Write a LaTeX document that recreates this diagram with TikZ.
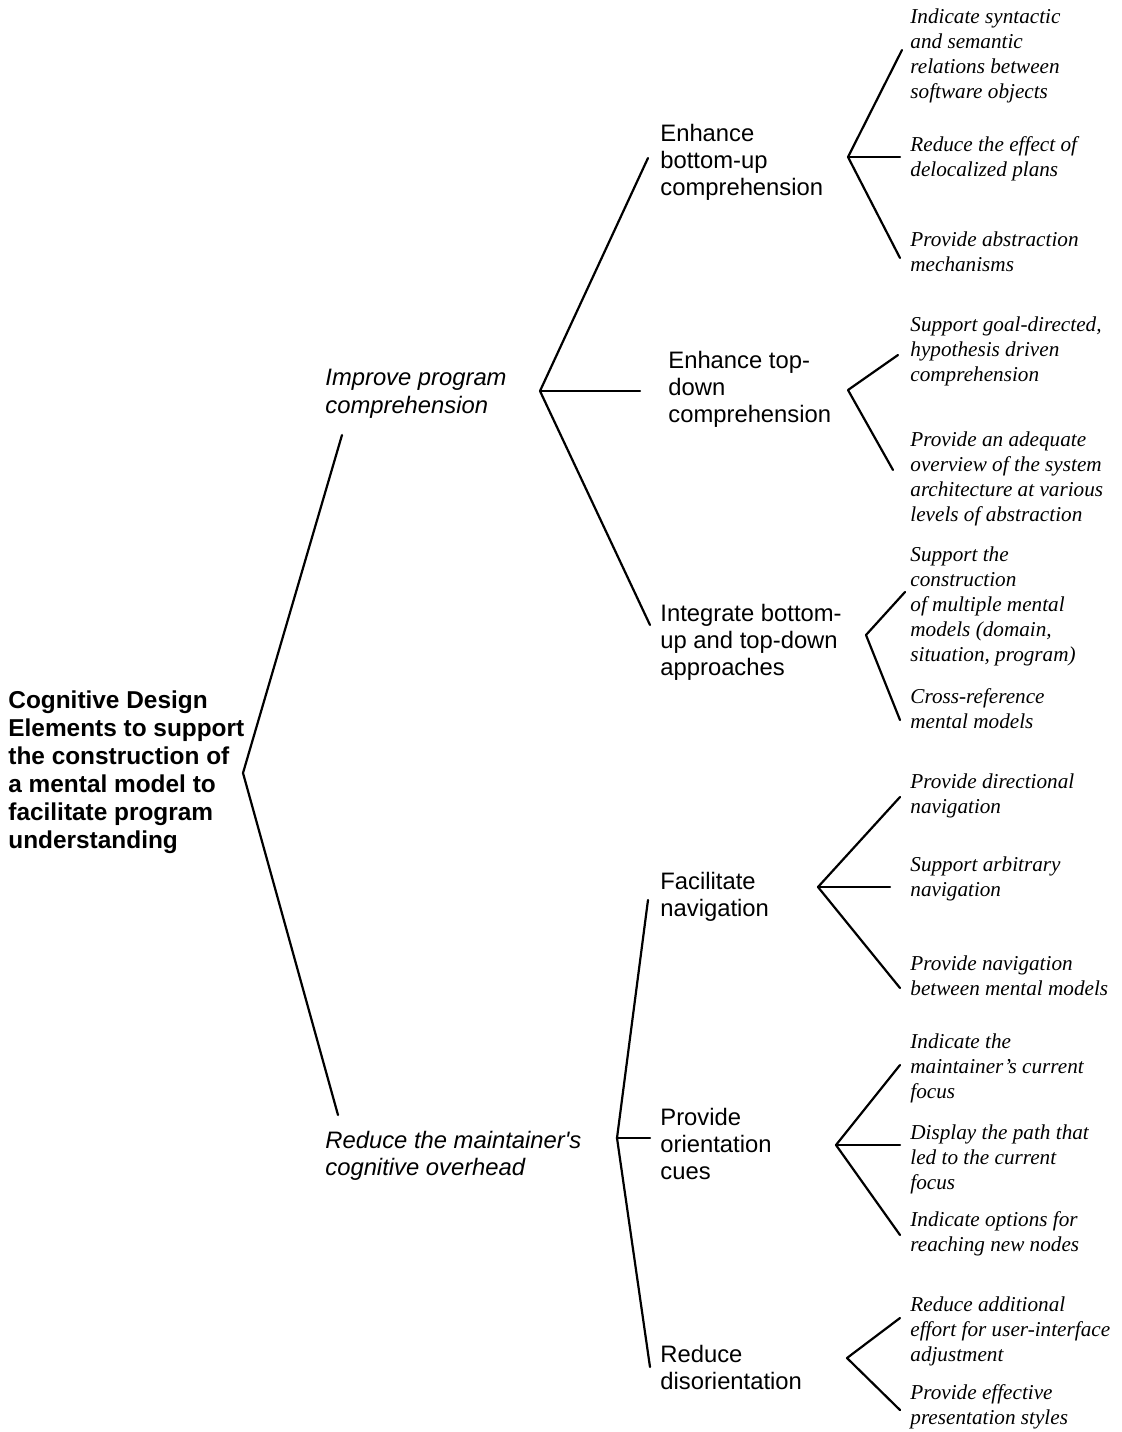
\documentclass[tikz,border=0pt]{standalone}
\usepackage{fontspec}
\setmainfont{Liberation Serif}
\setsansfont{Liberation Sans}
\begin{document}
\begin{tikzpicture}[x=0.5pt,y=-0.5pt,
  txt/.style={anchor=west, align=left, inner sep=0pt},
  rootbox/.style={txt, font=\sffamily\bfseries\fontsize{12.2}{14}\selectfont},
  goalbox/.style={txt, font=\sffamily\itshape\fontsize{11.9}{13.8}\selectfont},
  subbox/.style={txt, font=\sffamily\fontsize{11.9}{13.5}\selectfont},
  leafbox/.style={txt, font=\rmfamily\itshape\fontsize{10.6}{12.5}\selectfont},
  link/.style={line width=1.1pt, line cap=round, line join=round}]
% page
\fill[white] (0,0) rectangle (1122,1432);

% root and goals
\node[rootbox] (root) at (8,772) {Cognitive Design\\Elements to support\\the construction of\\a mental model to\\facilitate program\\understanding};
\node[goalbox] (improve) at (325,394) {Improve program\\comprehension};
\node[goalbox] (reduce) at (325,1156) {Reduce the maintainer\textquotesingle s\\cognitive overhead};

% sub-goals
\node[subbox] (bu) at (660,162) {Enhance\\bottom-up\\comprehension};
\node[subbox] (td) at (668,389) {Enhance top-\\down\\comprehension};
\node[subbox] (ig) at (660,642) {Integrate bottom-\\up and top-down\\approaches};
\node[subbox] (nav) at (660,897) {Facilitate\\navigation};
\node[subbox] (ori) at (660,1144) {Provide\\orientation\\cues};
\node[subbox] (dis) at (660,1367) {Reduce\\disorientation};

% design elements
\node[leafbox] (bu1) at (910,56) {Indicate syntactic\\and semantic\\relations between\\software objects};
\node[leafbox] (bu2) at (910,158.5) {Reduce the effect of\\delocalized plans};
\node[leafbox] (bu3) at (910,252) {Provide abstraction\\mechanisms};
\node[leafbox] (td1) at (910,351) {Support goal-directed,\\hypothesis driven\\comprehension};
\node[leafbox] (td2) at (910,478.5) {Provide an adequate\\overview of the system\\architecture at various\\levels of abstraction};
\node[leafbox] (ig1) at (910,606) {Support the\\construction\\of multiple mental\\models (domain,\\situation, program)};
\node[leafbox] (ig2) at (910,708.5) {Cross-reference\\mental models};
\node[leafbox] (nav1) at (910,795.5) {Provide directional\\navigation};
\node[leafbox] (nav2) at (910,878.5) {Support arbitrary\\navigation};
\node[leafbox] (nav3) at (910,976) {Provide navigation\\between mental models};
\node[leafbox] (ori1) at (910,1068) {Indicate the\\maintainer's current\\focus};
\node[leafbox] (ori2) at (910,1159) {Display the path that\\led to the current\\focus};
\node[leafbox] (ori3) at (910,1233.5) {Indicate options for\\reaching new nodes};
\node[leafbox] (dis1) at (910,1331) {Reduce additional\\effort for user-interface\\adjustment};
\node[leafbox] (dis2) at (910,1406.5) {Provide effective\\presentation styles};

% fork points and branch ends
\coordinate (rootF) at (243,773);
\coordinate (rootA) at (342,435);
\coordinate (rootB) at (338,1115);
\coordinate (impF) at (540,391);
\coordinate (impA) at (648,158);
\coordinate (impB) at (640,391);
\coordinate (impC) at (650,625);
\coordinate (redF) at (617,1138);
\coordinate (redA) at (648,900);
\coordinate (redB) at (650,1138);
\coordinate (redC) at (650,1367);
\coordinate (buF) at (848,157);
\coordinate (buA) at (902,50);
\coordinate (buB) at (900,157);
\coordinate (buC) at (900,258);
\coordinate (tdF) at (848,390);
\coordinate (tdA) at (898,355);
\coordinate (tdB) at (893,470);
\coordinate (igF) at (866,635);
\coordinate (igA) at (905,592);
\coordinate (igB) at (900,720);
\coordinate (navF) at (818,887);
\coordinate (navA) at (900,797);
\coordinate (navB) at (890,887);
\coordinate (navC) at (900,988);
\coordinate (oriF) at (836,1145);
\coordinate (oriA) at (900,1065);
\coordinate (oriB) at (900,1145);
\coordinate (oriC) at (900,1235);
\coordinate (disF) at (847,1358);
\coordinate (disA) at (900,1318);
\coordinate (disB) at (900,1410);

% branches
\draw[link] (rootA) -- (rootF) -- (rootB);
\draw[link] (impA) -- (impF) -- (impC);
\draw[link] (impF) -- (impB);
\draw[link] (redA) -- (redF) -- (redC);
\draw[link] (redF) -- (redB);
\draw[link] (buA) -- (buF) -- (buC);
\draw[link] (buF) -- (buB);
\draw[link] (tdA) -- (tdF) -- (tdB);
\draw[link] (igA) -- (igF) -- (igB);
\draw[link] (navA) -- (navF) -- (navC);
\draw[link] (navF) -- (navB);
\draw[link] (oriA) -- (oriF) -- (oriC);
\draw[link] (oriF) -- (oriB);
\draw[link] (disA) -- (disF) -- (disB);
\end{tikzpicture}
\end{document}
